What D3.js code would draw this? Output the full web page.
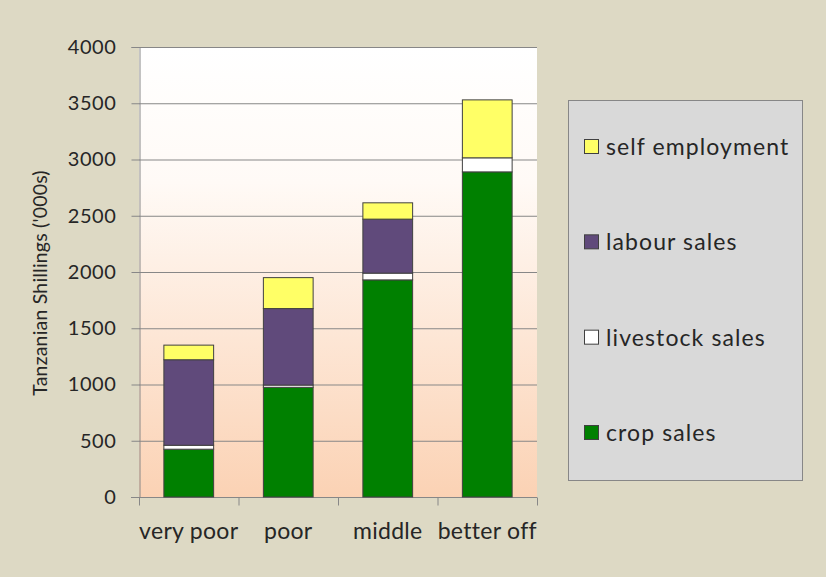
<!DOCTYPE html>
<html>
<head>
<meta charset="utf-8">
<script src="https://cdn.jsdelivr.net/npm/d3@7/dist/d3.min.js"></script>
<style>
  body { margin: 0; background: #ddd9c4; }
  svg { display: block; font-family: Lato, "Open Sans", sans-serif; }
</style>
</head>
<body>
<div id="container"></div>
<script>
const categories = ['very poor', 'poor', 'middle', 'better off'];
const series = ['crop sales', 'livestock sales', 'labour sales', 'self employment'];
const cropSales = [425, 975, 1930, 2890];
const livestockSales = [35, 20, 60, 125];
const labourSales = [760, 680, 480, 0];
const selfEmployment = [130, 275, 145, 515];
const yTicks = [0, 500, 1000, 1500, 2000, 2500, 3000, 3500, 4000];
const colors = ['#008000', '#ffffff', '#604a7b', '#ffff66'];

const width = 826;
const height = 577;
const plot = { left: 139, top: 47, right: 537, bottom: 497 };

const rows = categories.map((c, i) => ({
  category: c,
  'crop sales': cropSales[i],
  'livestock sales': livestockSales[i],
  'labour sales': labourSales[i],
  'self employment': selfEmployment[i]
}));

const svg = d3
  .select('#container')
  .append('svg')
  .attr('width', width)
  .attr('height', height);

svg
  .append('rect')
  .attr('width', width)
  .attr('height', height)
  .attr('fill', '#ddd9c4');

// gradient for plot area
const grad = svg
  .append('defs')
  .append('linearGradient')
  .attr('id', 'bg')
  .attr('x1', 0)
  .attr('y1', 0)
  .attr('x2', 0)
  .attr('y2', 1);
grad.append('stop').attr('offset', '0%').attr('stop-color', '#ffffff');
grad.append('stop').attr('offset', '30%').attr('stop-color', '#fffaf6');
grad.append('stop').attr('offset', '100%').attr('stop-color', '#fbd2b4');

const x = d3
  .scaleBand()
  .domain(categories)
  .range([plot.left, plot.right])
  .paddingInner(0.5)
  .paddingOuter(0.25);

const y = d3
  .scaleLinear()
  .domain([0, 4000])
  .range([plot.bottom, plot.top]);

svg
  .append('rect')
  .attr('x', plot.left)
  .attr('y', plot.top)
  .attr('width', plot.right - plot.left)
  .attr('height', plot.bottom - plot.top)
  .attr('fill', 'url(#bg)');

// gridlines
svg
  .append('g')
  .selectAll('line')
  .data(yTicks.slice(1))
  .enter()
  .append('line')
  .attr('x1', plot.left)
  .attr('x2', plot.right)
  .attr('y1', d => y(d) + 0.5)
  .attr('y2', d => y(d) + 0.5)
  .attr('stroke', '#878787')
  .attr('stroke-width', 1);

// Y axis
const yAxis = svg
  .append('g')
  .attr('transform', `translate(${plot.left + 0.5},0)`)
  .call(
    d3.axisLeft(y)
      .tickValues(yTicks)
      .tickSize(8)
      .tickPadding(15)
      .tickFormat(d3.format('d'))
  );
yAxis.select('.domain').attr('stroke', '#878787');
yAxis.selectAll('.tick line').attr('stroke', '#878787');
yAxis
  .selectAll('.tick text')
  .attr('fill', '#262626')
  .style('font-size', '20px')
  .style('letter-spacing', '0.6px')
  .style('font-family', 'Lato, sans-serif');

// X axis
const xAxis = svg
  .append('g')
  .attr('transform', `translate(0,${plot.bottom + 0.5})`);
xAxis
  .append('line')
  .attr('x1', plot.left - 8)
  .attr('x2', plot.right)
  .attr('stroke', '#878787');
const step = x.step();
xAxis
  .selectAll('line.tk')
  .data(d3.range(categories.length + 1))
  .enter()
  .append('line')
  .attr('class', 'tk')
  .attr('x1', i => plot.left + 0.5 + i * step)
  .attr('x2', i => plot.left + 0.5 + i * step)
  .attr('y1', 0)
  .attr('y2', 8)
  .attr('stroke', '#878787');
xAxis
  .selectAll('text')
  .data(categories)
  .enter()
  .append('text')
  .attr('x', d => x(d) + x.bandwidth() / 2)
  .attr('y', 41)
  .attr('text-anchor', 'middle')
  .attr('fill', '#262626')
  .style('font-size', '23px')
  .style('letter-spacing', '0.3px')
  .text(d => d);

// stacked bars
const stack = d3.stack().keys(series)(rows);
svg
  .append('g')
  .selectAll('g')
  .data(stack)
  .enter()
  .append('g')
  .attr('fill', (d, i) => colors[i])
  .selectAll('rect')
  .data(d => d)
  .enter()
  .filter(d => d[1] - d[0] > 0)
  .append('rect')
  .attr('x', d => x(d.data.category))
  .attr('y', d => y(d[1]))
  .attr('width', x.bandwidth())
  .attr('height', d => y(d[0]) - y(d[1]))
  .attr('stroke', '#404040')
  .attr('stroke-width', 1);

// Y title
svg
  .append('text')
  .attr('transform', 'translate(47,283) rotate(-90)')
  .attr('text-anchor', 'middle')
  .attr('fill', '#262626')
  .style('font-size', '19.5px')
  .style('letter-spacing', '0.2px')
  .text("Tanzanian Shillings ('000s)");

// Legend
const legend = svg.append('g');
legend
  .append('rect')
  .attr('x', 568.5)
  .attr('y', 100.5)
  .attr('width', 234)
  .attr('height', 380)
  .attr('fill', '#d9d9d9')
  .attr('stroke', '#878787');

const legendItems = series.slice().reverse();
const ly = d3
  .scalePoint()
  .domain(legendItems)
  .range([147, 433]);
const item = legend
  .selectAll('g')
  .data(legendItems)
  .enter()
  .append('g')
  .attr('transform', d => `translate(584,${ly(d)})`);
item
  .append('rect')
  .attr('x', 0.5)
  .attr('y', -7.5)
  .attr('width', 14)
  .attr('height', 14)
  .attr('fill', d => colors[series.indexOf(d)])
  .attr('stroke', '#404040');
item
  .append('text')
  .attr('x', 22)
  .attr('y', 8)
  .attr('fill', '#262626')
  .style('font-size', '23px')
  .style('letter-spacing', '1.1px')
  .text(d => d);
</script>
</body>
</html>
